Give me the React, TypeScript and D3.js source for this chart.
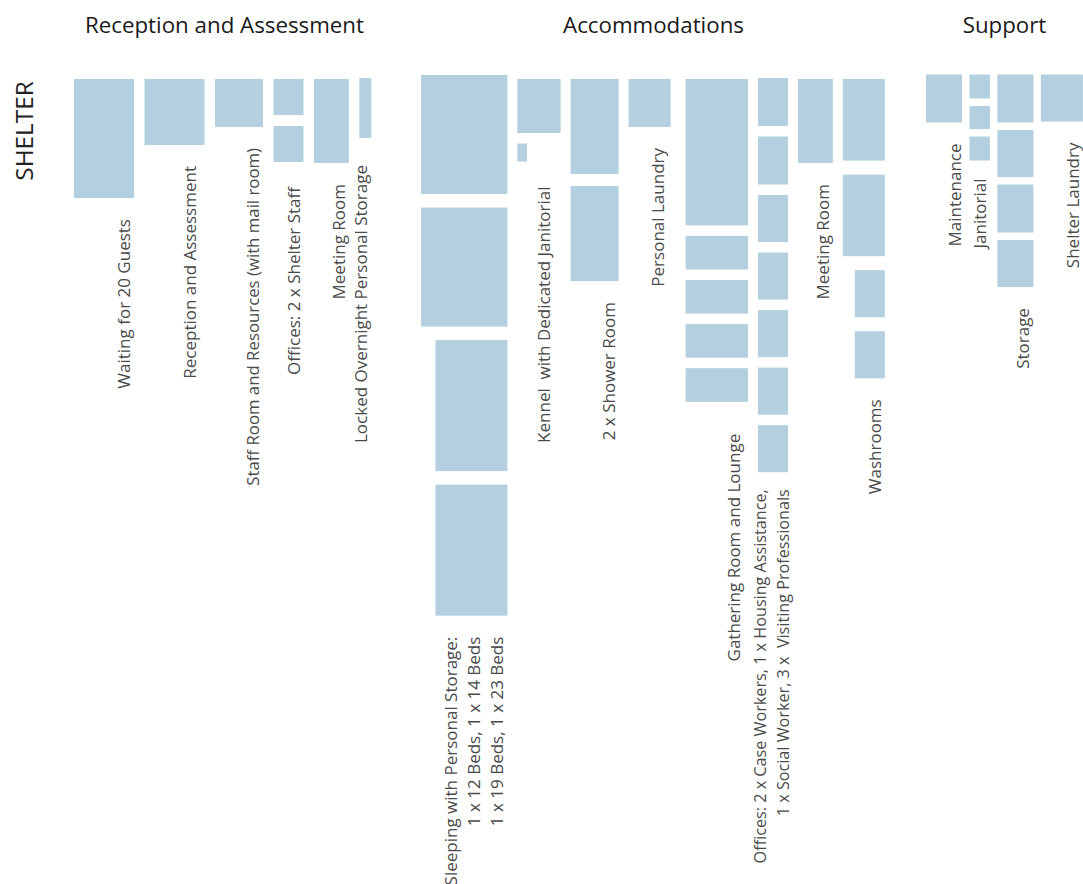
import React from "react";
import * as d3 from "d3";

// ---------- DATA ----------
const groupNames = ["Reception and Assessment", "Accommodations", "Support"];

// column id, group index, label lines
const columnIds = [
  "waiting", "reception", "staff", "officesStaff", "meetingA", "locked",
  "sleeping", "kennel", "shower", "persLaundry", "gathering", "officesCase", "meetingB", "washrooms",
  "maintenance", "janitorial", "storage", "shelterLaundry",
];
const columnGroup = [0, 0, 0, 0, 0, 0, 1, 1, 1, 1, 1, 1, 1, 1, 2, 2, 2, 2];
const columnLabels: string[][] = [
  ["Waiting for 20 Guests"],
  ["Reception and Assessment"],
  ["Staff Room and Resources (with mail room)"],
  ["Offices: 2 x Shelter Staff"],
  ["Meeting Room"],
  ["Locked Overnight Personal Storage"],
  ["Sleeping with Personal Storage:", "1 x 12 Beds, 1 x 14 Beds", "1 x 19 Beds, 1 x 23 Beds"],
  ["Kennel  with Dedicated Janitorial"],
  ["2 x Shower Room"],
  ["Personal Laundry"],
  ["Gathering Room and Lounge"],
  ["Offices: 2 x Case Workers, 1 x Housing Assistance,", "1 x Social Worker, 3 x  Visiting Professionals"],
  ["Meeting Room"],
  ["Washrooms"],
  ["Maintenance"],
  ["Janitorial"],
  ["Storage"],
  ["Shelter Laundry"],
];

// rooms: column id, width (ft), depth (ft) — stacked top to bottom in each column
const roomColumn = [
  "waiting", "reception", "staff", "officesStaff", "officesStaff", "meetingA", "locked",
  "sleeping", "sleeping", "sleeping", "sleeping",
  "kennel", "kennel",
  "shower", "shower",
  "persLaundry",
  "gathering", "gathering", "gathering", "gathering", "gathering",
  "officesCase", "officesCase", "officesCase", "officesCase", "officesCase", "officesCase", "officesCase",
  "meetingB",
  "washrooms", "washrooms", "washrooms", "washrooms",
  "maintenance",
  "janitorial", "janitorial", "janitorial",
  "storage", "storage", "storage", "storage",
  "shelterLaundry",
];
const roomWidthFt = [
  25, 25, 20, 12.5, 12.5, 14.5, 5,
  36, 36, 30, 30,
  18, 4,
  20, 20,
  17.5,
  26, 26, 26, 26, 26,
  12.5, 12.5, 12.5, 12.5, 12.5, 12.5, 12.5,
  14.5,
  17.5, 17.5, 12.5, 12.5,
  15,
  8.5, 8.5, 8.5,
  15, 15, 15, 15,
  17.5,
];
const roomDepthFt = [
  49.6, 27.5, 20, 15, 15, 35, 25,
  49.6, 49.6, 54.6, 54.6,
  22.5, 7.5,
  39.6, 39.6,
  20,
  61, 14, 14, 14, 14,
  20, 20, 19.6, 19.6, 19.6, 19.6, 19.6,
  35,
  34, 34, 19.6, 19.6,
  20,
  10, 9.6, 10,
  20, 19.6, 20, 19.6,
  19.6,
];

// ---------- LAYOUT ----------
const W = 1083;
const H = 884;
const FILL = "#b4d0e0";
const FONT = "'Open Sans', 'Noto Sans', sans-serif";

const groupLayout = [
  { x0: 74, top: 79, colGap: 10.5, rowGap: 11, titleX: 224.5 },
  { x0: 421, top: 79, colGap: 10, rowGap: 10.5, titleX: 653.5 },
  { x0: 926, top: 74.5, colGap: 7.5, rowGap: 7.5, titleX: 1004.5 },
];
const colTweaks: Record<
  string,
  { rowGap?: number; top?: number; extraX?: number; labelDx?: number; labelDy?: number; leftAlign?: number[]; fontSize?: number }
> = {
  reception: { labelDx: -5 },
  staff: { fontSize: 16.8 },
  officesStaff: { labelDy: 4 },
  locked: { labelDy: 6, top: 78 },
  sleeping: { rowGap: 13.5, top: 75 },
  kennel: { labelDx: -7, labelDy: 4, leftAlign: [1] },
  shower: { rowGap: 12 },
  persLaundry: { labelDx: -3 },
  gathering: { extraX: 5, labelDx: -4, labelDy: 11 },
  officesCase: { labelDx: 5, top: 78, labelDy: -4, fontSize: 16.2 },
  washrooms: { rowGap: 14 },
  maintenance: { labelDx: 3 },
  janitorial: { labelDy: -3 },
};

export default function App() {
  const ft = d3.scaleLinear().domain([0, 100]).range([0, 240]);

  const cols = columnIds.map((id, i) => {
    const rooms = roomColumn
      .map((c, j) => ({ c, j }))
      .filter((r) => r.c === id)
      .map((r) => ({ w: ft(roomWidthFt[r.j]), h: ft(roomDepthFt[r.j]) }));
    return { id, i, g: columnGroup[i], rooms, width: d3.max(rooms, (r) => r.w) || 0 };
  });

  const rects: { x: number; y: number; w: number; h: number; key: string }[] = [];
  const labels: { x: number; y: number; lines: string[]; key: string; fs: number }[] = [];

  groupNames.forEach((_, g) => {
    const gl = groupLayout[g];
    let x = gl.x0;
    cols
      .filter((c) => c.g === g)
      .forEach((c, k) => {
        const t = colTweaks[c.id] || {};
        if (k > 0) x += gl.colGap;
        x += t.extraX || 0;
        const right = x + c.width;
        let y = t.top ?? gl.top;
        const gap = t.rowGap ?? gl.rowGap;
        c.rooms.forEach((r, ri) => {
          const left = t.leftAlign && t.leftAlign.includes(ri);
          rects.push({ x: left ? x : right - r.w, y, w: r.w, h: r.h, key: `${c.id}-${ri}` });
          y += r.h + gap;
        });
        const bottom = y - gap;
        labels.push({
          x: right - 4 + (t.labelDx || 0),
          y: bottom + 21 + (t.labelDy || 0),
          lines: columnLabels[c.i],
          key: c.id,
          fs: t.fontSize ?? 17,
        });
        x = right;
      });
  });

  return (
    <svg
      width={W}
      height={H}
      viewBox={`0 0 ${W} ${H}`}
      style={{ position: "absolute", left: 0, top: 0, background: "#fff" }}
      fontFamily={FONT}
    >
      <rect x={0} y={0} width={W} height={H} fill="#fff" />
      {groupNames.map((name, g) => (
        <text key={name} x={groupLayout[g].titleX} y={33} textAnchor="middle" fontSize={22.3} fill="#1a1a1a">
          {name}
        </text>
      ))}
      <text transform={`translate(33,131) rotate(-90)`} textAnchor="middle" fontSize={24.3} fill="#222">
        SHELTER
      </text>
      {rects.map((r) => (
        <rect key={r.key} x={r.x} y={r.y} width={r.w} height={r.h} fill={FILL} />
      ))}
      {labels.map((l) =>
        l.lines.map((line, li) => {
          const bx = l.x - (l.lines.length - 1 - li) * 23;
          return (
            <text
              key={`${l.key}-${li}`}
              transform={`translate(${bx},${l.y}) rotate(-90)`}
              textAnchor="end"
              fontSize={l.fs}
              fill="#4a4a4a"
              style={{ whiteSpace: "pre" }}
            >
              {line}
            </text>
          );
        })
      )}
    </svg>
  );
}
